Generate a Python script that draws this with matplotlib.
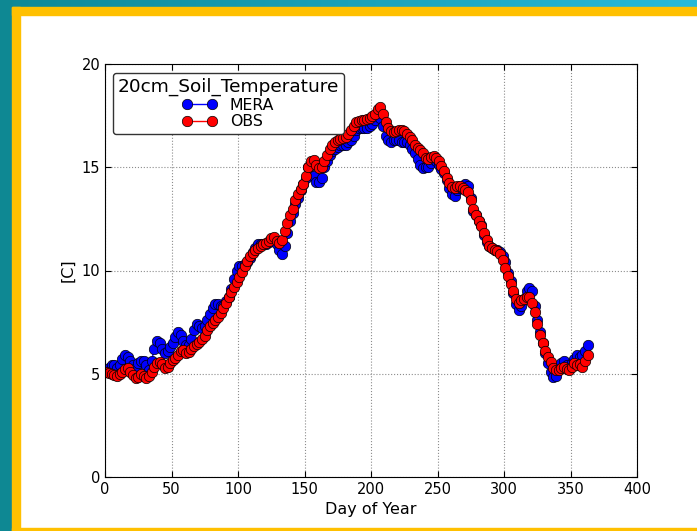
import numpy as np
import matplotlib
matplotlib.use("Agg")
import matplotlib.pyplot as plt
from matplotlib.patches import Rectangle

# day of year, every second day
days = list(range(1, 364, 2))

# MERA reanalysis, 20cm soil temperature
mera_temp = [5.1, 5.3, 5.4, 5.4, 5.3, 5.4, 5.7, 5.9, 5.8, 5.6,
             5.4, 5.3, 5.5, 5.6, 5.6, 5.4, 5.2, 5.6, 6.2, 6.6,
             6.5, 6.2, 6.0, 6.1, 6.3, 6.5, 6.8, 7.0, 6.9, 6.6,
             6.4, 6.4, 6.7, 7.1, 7.4, 7.3, 7.2, 7.3, 7.6, 7.9,
             8.2, 8.4, 8.4, 8.3, 8.3, 8.5, 8.7, 9.1, 9.6, 10.0,
             10.2, 10.2, 10.3, 10.4, 10.6, 10.9, 11.1, 11.3, 11.3, 11.3,
             11.3, 11.4, 11.5, 11.5, 11.3, 11.0, 10.8, 11.2, 11.8, 12.4,
             12.8, 13.2, 13.5, 13.9, 14.2, 14.5, 15.0, 15.1, 14.6, 14.3,
             14.3, 14.5, 15.0, 15.3, 15.6, 15.8, 15.9, 16.0, 16.1, 16.1,
             16.1, 16.2, 16.3, 16.5, 16.8, 16.9, 16.9, 16.9, 16.9, 17.0,
             17.1, 17.3, 17.5, 17.4, 17.0, 16.5, 16.3, 16.2, 16.3, 16.3,
             16.3, 16.2, 16.2, 16.2, 16.1, 15.9, 15.7, 15.4, 15.1, 14.95,
             15.0, 15.0, 15.2, 15.4, 15.3, 15.1, 14.9, 14.7, 14.4, 14.0,
             13.7, 13.6, 13.9, 14.0, 14.1, 14.2, 14.1, 13.5, 12.9, 12.7,
             12.4, 12.2, 11.7, 11.4, 11.2, 11.1, 11.0, 11.0, 10.9, 10.7,
             10.4, 9.9, 9.5, 8.9, 8.4, 8.1, 8.3, 8.6, 9.0, 9.15,
             9.0, 8.3, 7.6, 7.0, 6.5, 6.0, 5.5, 5.1, 4.85, 4.9,
             5.3, 5.5, 5.6, 5.4, 5.3, 5.5, 5.7, 5.9, 5.8, 5.9,
             6.1, 6.4]

# observations
obs_temp = [5.1, 5.05, 5.0, 4.95, 4.9, 5.0, 5.1, 5.25, 5.3, 5.1,
            4.95, 4.8, 4.85, 5.0, 4.9, 4.8, 4.9, 5.1, 5.35, 5.5,
            5.55, 5.45, 5.3, 5.35, 5.5, 5.65, 5.75, 5.9, 6.1, 6.15,
            6.0, 6.05, 6.2, 6.35, 6.45, 6.55, 6.7, 6.85, 7.1, 7.3,
            7.45, 7.6, 7.75, 7.95, 8.2, 8.45, 8.7, 8.95, 9.2, 9.45,
            9.7, 9.95, 10.2, 10.45, 10.7, 10.85, 11.0, 11.1, 11.2, 11.3,
            11.35, 11.45, 11.55, 11.6, 11.45, 11.35, 11.5, 11.9, 12.3, 12.7,
            13.0, 13.4, 13.7, 13.95, 14.2, 14.6, 15.0, 15.3, 15.35, 15.1,
            14.95, 15.0, 15.3, 15.6, 15.9, 16.1, 16.2, 16.3, 16.35, 16.4,
            16.45, 16.6, 16.8, 17.0, 17.2, 17.25, 17.3, 17.3, 17.35, 17.4,
            17.5, 17.6, 17.8, 17.9, 17.6, 17.2, 16.9, 16.75, 16.7, 16.75,
            16.8, 16.8, 16.75, 16.6, 16.45, 16.3, 16.1, 15.95, 15.85, 15.7,
            15.45, 15.4, 15.5, 15.55, 15.45, 15.3, 15.05, 14.8, 14.5, 14.25,
            14.05, 14.0, 14.1, 14.1, 14.0, 13.9, 13.8, 13.4, 13.0, 12.7,
            12.4, 12.15, 11.8, 11.5, 11.2, 11.1, 11.0, 10.95, 10.8, 10.5,
            10.1, 9.75, 9.35, 9.0, 8.6, 8.45, 8.55, 8.6, 8.7, 8.7,
            8.45, 8.0, 7.4, 6.9, 6.5, 6.1, 5.8, 5.55, 5.3, 5.2,
            5.2, 5.3, 5.35, 5.25, 5.2, 5.35, 5.5, 5.4, 5.45, 5.35,
            5.6, 5.9]

W, H = 697, 531
fig = plt.figure(figsize=(W / 100, H / 100), dpi=100)
fig.patch.set_facecolor("white")

# decorative frame: teal outer band, yellow inner band
fig.patches.append(Rectangle((0, 0), 12 / W, 1, transform=fig.transFigure,
                             color="#0e8893", zorder=0))
fig.patches.append(Rectangle((12 / W, 0), 8 / W, 1 - 7 / H, transform=fig.transFigure,
                             color="#ffc000", zorder=0))
fig.patches.append(Rectangle((12 / W, 1 - 15 / H), 1, 8 / H, transform=fig.transFigure,
                             color="#ffc000", zorder=0))
fig.patches.append(Rectangle((12 / W, 0), 1, 3 / H, transform=fig.transFigure,
                             color="#ffc000", zorder=0))
top = fig.add_axes([0, 1 - 7 / H, 1, 7 / H])
grad = np.linspace(0, 1, 256)
c0 = np.array([14, 136, 150]) / 255
c1 = np.array([40, 186, 218]) / 255
top.imshow((c0 + (c1 - c0) * grad[:, None])[None, :, :], aspect="auto")
top.axis("off")

ax = fig.add_axes([105 / W, 1 - 477 / H, 532 / W, 413 / H])
ax.plot(days, mera_temp, "-o", color="b", lw=1, ms=7.5, mec="k", mew=0.5, label="MERA")
ax.plot(days, obs_temp, "-o", color="r", lw=1, ms=7.5, mec="k", mew=0.5, label="OBS")

ax.set_xlim(0, 400)
ax.set_ylim(0, 20)
ax.set_xticks(range(0, 401, 50))
ax.set_yticks(range(0, 21, 5))
ax.grid(True, color="0.55", linestyle=":", linewidth=0.8)
ax.tick_params(direction="in", top=True, right=True, labelsize=10.5, length=4)
ax.set_xlabel("Day of Year", fontsize=11.5)
ax.set_ylabel("[C]", fontsize=11.5)

leg = ax.legend(loc="upper left", bbox_to_anchor=(0.015, 0.978), borderaxespad=0,
                title="20cm_Soil_Temperature", title_fontsize=13.3, fontsize=11.3,
                numpoints=2, fancybox=True, framealpha=1, edgecolor="0.2",
                handlelength=2.2, borderpad=0.3, labelspacing=0.1)
leg.get_frame().set_linewidth(1)

fig.savefig("out.png", dpi=100)
